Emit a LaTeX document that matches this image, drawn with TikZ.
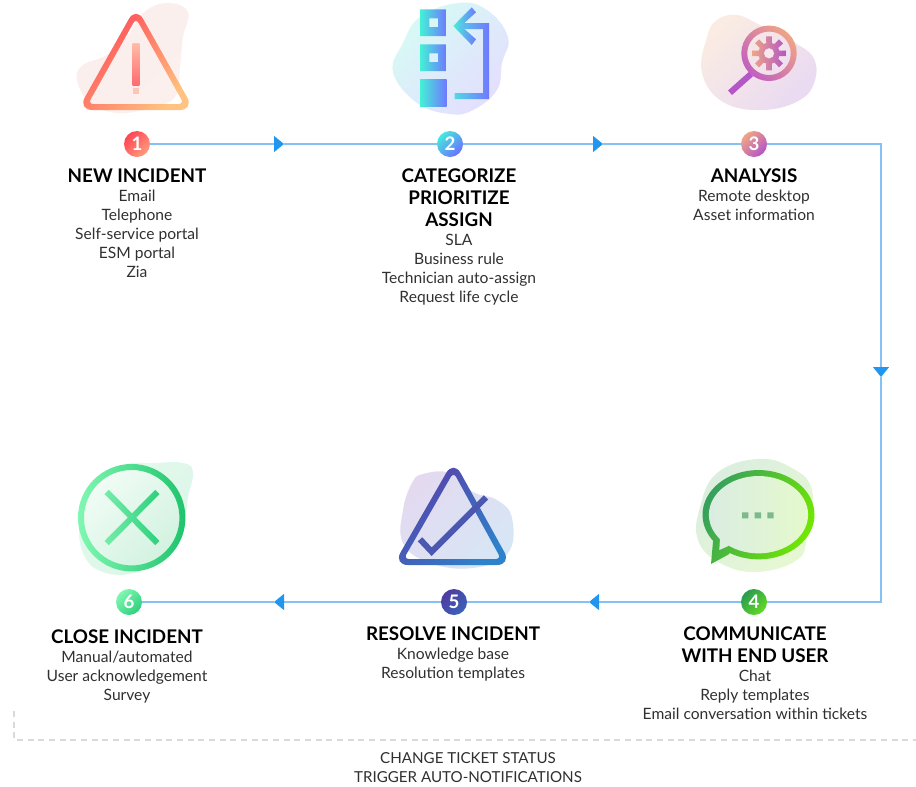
\documentclass[tikz,border=0pt]{standalone}
\usepackage{fontspec}
\setmainfont{Lato}
\usepackage{tikz}
\usetikzlibrary{positioning,arrows.meta}

\definecolor{flowblue}{HTML}{85C1F2}
\definecolor{tipblue}{HTML}{2196EE}
\definecolor{dashgray}{HTML}{D9D9D9}
\definecolor{bodygray}{HTML}{303030}
\definecolor{warndot}{HTML}{FFC4B4}
\definecolor{lenshandle}{HTML}{B455C8}
\definecolor{gearhole}{HTML}{F6E8F0}
\definecolor{chatdots}{HTML}{7DB98C}
\definecolor{checkline}{HTML}{4C58B0}

\tikzset{
	x=0.75pt,y=-0.75pt,
	gradient/.code n args={3}{\definecolor{gradA}{HTML}{#1}\definecolor{gradB}{HTML}{#2}\tikzset{left color=gradA,right color=gradB,shading angle=#3}},
	diag/.style 2 args={gradient={#1}{#2}{45}},
	across/.style 2 args={gradient={#1}{#2}{90}},
	flowline/.style={draw=flowblue,line width=0.9pt},
	flowtip/.style={flowline,-{Triangle[length=7.5pt,width=12pt,color=tipblue]}},
	numdot/.style={circle,minimum size=19.5pt,inner sep=0pt,text=white,font=\fontsize{14}{14}\selectfont\bfseries},
	headtext/.style={align=center,inner sep=0pt,font=\fontsize{14.1}{16.5}\selectfont\bfseries},
	listtext/.style={align=center,inner sep=0pt,text=bodygray,font=\fontsize{11.7}{14.25}\selectfont},
	statustext/.style={listtext,font=\fontsize{11.35}{14.25}\selectfont},
	blobline/.style={smooth cycle,tension=0.7},
}

\begin{document}
\begin{tikzpicture}
	\useasboundingbox (0,0) rectangle (916,786);

	% blobs
	\shade[diag={FBEEEC}{FBF0EE}] plot[blobline] coordinates {(143,13) (167,3) (188,12) (183,37) (180,67) (175,97) (150,108) (117,113) (90,103) (77,80) (83,65) (107,55) (127,37)};
	\shade[diag={D6FBF4}{E4DEFF}] plot[blobline] coordinates {(458,3) (487,10) (508,37) (502,63) (497,90) (473,110) (450,114) (417,103) (393,72) (403,43) (420,17)};
	\shade[diag={FAECE3}{EADAF2}] plot[blobline] coordinates {(737,15) (760,25) (793,42) (813,57) (815,80) (800,100) (763,110) (723,102) (702,73) (707,37) (717,20)};
	\shade[diag={DBEEE0}{E6F8D2}] plot[blobline] coordinates {(757,459) (790,467) (812,490) (807,537) (797,560) (757,572) (720,563) (698,540) (700,507) (717,473)};
	\shade[diag={E3DAF0}{D7E6F5}] plot[blobline] coordinates {(423,474) (450,473) (473,492) (497,500) (512,518) (508,553) (473,568) (430,563) (403,543) (403,510) (412,483)};
	\shade[diag={E2F9EC}{DDF6E8}] plot[blobline] coordinates {(153,463) (183,463) (193,472) (188,497) (185,517) (173,550) (137,572) (103,572) (83,553) (80,517) (93,483) (123,465)};

	% icon 1
	\shade[diag={FF4555}{FFC280},even odd rule] [rounded corners=11pt] (136,6.3) -- (194.3,110) -- (77.7,110) -- cycle [rounded corners=4pt] (136,18.3) -- (183.9,104) -- (88.1,104) -- cycle;
	\shade[gradient={FFBDA8}{FF6A70}{0}] (132.7,43) rectangle (139.3,85);
	\fill[warndot] (132.7,88) rectangle (139.3,94);

	% icon 2
	\shade[across={44F0D6}{7078FF},even odd rule] (420,9.3) rectangle (446.7,36) (429.3,18.3) rectangle (438,27);
	\shade[across={44F0D6}{7078FF},even odd rule] (420,44.3) rectangle (446.7,71) (429.3,53.3) rectangle (438,62);
	\shade[across={44F0D6}{7078FF}] (420,79.3) rectangle (446.7,106);
	\shade[across={44F0D6}{7078FF}] (471.7,7.3) -- (476,12.3) -- (461,26) -- (476,39.3) -- (471.7,45) -- (453.3,26) -- cycle;
	\shade[across={52D8E6}{7078FF}] (460,23) -- (489,23) -- (489,99) -- (454.7,99) -- (454.7,93) -- (483,93) -- (483,29) -- (460,29) -- cycle;

	% icon 3
	\draw[lenshandle,line width=4.5pt] (751,74) -- (730,92.7);
	\shade[gradient={C25FC0}{EFA585}{135},even odd rule] (769,53.3) circle[x radius=20.8pt,y radius=20.8pt] (769,53.3) circle[x radius=16.3pt,y radius=16.3pt];
	\begin{scope}[shift={(769,53.3)}]
		\shade[across={EFA585}{B455C8}] (0,0) circle[x radius=8pt,y radius=8pt]
		\foreach \a in {0,45,...,315} { (\a-20:8) -- (\a+20:8) -- (\a+9.4:17.2) -- (\a-9.4:17.2) -- cycle };
		\fill[gearhole] (0,0) circle[x radius=3.8pt,y radius=3.8pt];
	\end{scope}

	% icon 4
	\shade[gradient={36A05C}{72E800}{65}] (758.5,514.7) circle[x radius=42pt,y radius=33.5pt] (713.3,538.3) -- (711,564) -- (729.3,554) -- (735,530) -- cycle;
	\shade[across={DAEDE2}{E5F9CC}] (758.5,514.7) circle[x radius=37.2pt,y radius=29pt] (720,538) -- (719.3,550) -- (728.3,546) -- (735,535) -- cycle;
	\fill[chatdots] (742,512.3) rectangle (748.3,518.3) (754.7,512.3) rectangle (761,518.3) (767.3,512.3) rectangle (773.7,518.3);

	% icon 5
	\shade[diag={5A3FA8}{2E82CA},even odd rule] [rounded corners=11pt] (453.5,460.2) -- (511.5,565) -- (393.3,565) -- cycle [rounded corners=4pt] (453.5,472.2) -- (501.1,559) -- (403.7,559) -- cycle;
	\draw[checkline,line width=4.5pt] (420,539.3) -- (431.7,551.7) -- (486,497.3);

	% icon 6
	\shade[diag={F0FCF5}{D3F2E0}] (131.7,517.7) circle[x radius=36pt,y radius=36pt];
	\shade[across={80F7B2}{1EC46C},even odd rule] (131.7,517.7) circle[x radius=40.3pt,y radius=40.3pt] (131.7,517.7) circle[x radius=35.8pt,y radius=35.8pt];
	\shade[across={74EDA8}{2ED07C}] (108.8,489.9) -- (159.4,540.9) -- (155.2,545.1) -- (104.6,494.1) -- cycle (155.2,489.9) -- (159.4,494.1) -- (108.8,545.1) -- (104.6,540.9) -- cycle;
	\draw[white,line width=0.5pt] (100,485) .. controls (105,479) and (110,476) .. (115,474);

	% numbers
	\node[numdot,diag={FF4555}{FF9C7C}] (n1) at (137,144) {1};
	\node[numdot,diag={44E8DE}{6A70FF}] (n2) at (450,144) {2};
	\node[numdot,diag={EFA585}{B455C8}] (n3) at (754,144) {3};
	\node[numdot,diag={2A9A50}{62DA22}] (n4) at (754,602) {4};
	\node[numdot,diag={4F3CA0}{3A62B8}] (n5) at (454,602) {5};
	\node[numdot,diag={80F7B2}{2ED07C}] (n6) at (129,602) {6};

	% flow
	\coordinate (a1) at (284,144);
	\coordinate (a2) at (603,144);
	\coordinate (c1) at (881,144);
	\coordinate (a3) at (881,377);
	\coordinate (c2) at (881,602);
	\coordinate (a4) at (589,602);
	\coordinate (a5) at (274,602);
	\draw[flowtip] (n1) -- (a1);
	\draw[flowline] (a1) -- (n2);
	\draw[flowtip] (n2) -- (a2);
	\draw[flowline] (a2) -- (n3);
	\draw[flowtip] (n3) -- (c1) -- (a3);
	\draw[flowline] (a3) -- (c2) -- (n4);
	\draw[flowtip] (n4) -- (a4);
	\draw[flowline] (a4) -- (n5);
	\draw[flowtip] (n5) -- (a5);
	\draw[flowline] (a5) -- (n6);

	% texts
	\node[headtext] (t1) at (137,176) {NEW INCIDENT};
	\node[listtext,below=5pt of t1] (l1) {Email\\Telephone\\Self-service portal\\ESM portal\\Zia};
	\node[headtext] (t2) at (459,198) {CATEGORIZE\\PRIORITIZE\\ASSIGN};
	\node[listtext,below=5pt of t2] (l2) {SLA\\Business rule\\Technician auto-assign\\Request life cycle};
	\node[headtext] (t3) at (754,176) {ANALYSIS};
	\node[listtext,below=5pt of t3] (l3) {Remote desktop\\Asset information};
	\node[headtext] (t4) at (755,645) {COMMUNICATE\\WITH END USER};
	\node[listtext,below=5pt of t4] (l4) {Chat\\Reply templates\\Email conversation within tickets};
	\node[headtext] (t5) at (453,634) {RESOLVE INCIDENT};
	\node[listtext,below=5pt of t5] (l5) {Knowledge base\\Resolution templates};
	\node[headtext] (t6) at (127,637) {CLOSE INCIDENT};
	\node[listtext,below=5pt of t6] (l6) {Manual/automated\\User acknowledgement\\Survey};

	% status
	\coordinate (d1) at (14,711);
	\coordinate (d2) at (14,740);
	\coordinate (d3) at (916,740);
	\draw[dashgray,line width=0.9pt,dash pattern=on 4.5pt off 3.5pt] (d1) -- (d2) -- (d3);
	\node[statustext] (s1) at (468,768) {CHANGE TICKET STATUS\\TRIGGER AUTO-NOTIFICATIONS};
\end{tikzpicture}
\end{document}
